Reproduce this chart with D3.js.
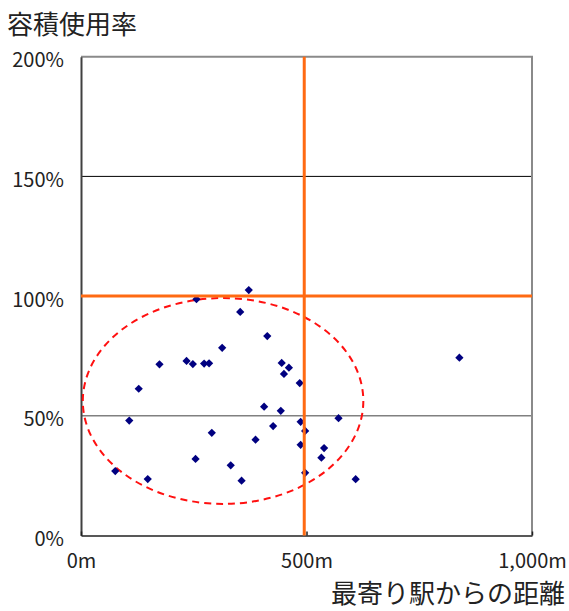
<!DOCTYPE html>
<html><head><meta charset="utf-8">
<script src="https://cdn.jsdelivr.net/npm/d3@7"></script>
<style>html,body{margin:0;padding:0;background:#fff}</style>
</head><body>
<svg id="c" width="569" height="611"></svg>
<script>
// distance to nearest station (m)
const distance = [372,256,353,413,313,174,234,248,273,284,445,461,450,485,128,406,443,107,487,497,290,426,387,487,254,332,76,148,356,497,571,539,533,609,839];
// floor area utilisation (%)
const usage = [102.5,98.7,93.4,83.3,78.4,71.5,72.9,71.6,71.8,71.9,72.1,70.1,67.5,63.7,61.3,53.8,52.1,48.0,47.5,43.7,42.9,45.7,40.0,37.9,32.0,29.3,26.9,23.6,22.9,26.2,49.0,36.5,32.5,23.5,74.3];
const xTicks = [0,500,1000];
const xTickLabels = ["0m","500m","1,000m"];
const yTicks = [0,50,100,150,200];
const yTickLabels = ["0%","50%","100%","150%","200%"];
const refX = [495];       // vertical reference line (m)
const refY = [100];       // horizontal reference line (%)
const ellipse = {cx:315, cy:56.2, rx:311, ry:43}; // dashed group outline, data units
const yTitle = "容積使用率";
const xTitle = "最寄り駅からの距離";

const svg = d3.select("#c");
const L=81, R=532, T=56.7, B=535.5;
const x = d3.scaleLinear().domain([0,1000]).range([L,R]);
const y = d3.scaleLinear().domain([0,200]).range([B,T]);
const font = "'Noto Sans CJK JP','Noto Sans',sans-serif";
const orange = "#ff6a12";

// gridlines
svg.append("g").selectAll("line").data(yTicks.filter(d=>d>0 && d<200)).join("line")
  .attr("x1",L).attr("x2",R).attr("y1",d=>y(d)).attr("y2",d=>y(d))
  .attr("stroke",d=>d===50?"#808080":"#000").attr("stroke-width",d=>d===50?1.6:1);
// top & right border
svg.append("path").attr("d",`M${L},${T}H${R}V${B}`).attr("fill","none")
  .attr("stroke","#8a8a8a").attr("stroke-width",2);

// axes
const yAxis = d3.axisLeft(y).tickValues(yTicks).tickFormat((d,i)=>yTickLabels[i]).tickSize(0).tickPadding(17);
const gy = svg.append("g").attr("transform",`translate(${L},0)`).call(yAxis);
gy.select(".domain").attr("stroke","#404040").attr("stroke-width",2);
gy.selectAll("text").attr("font-family",font).attr("font-size",20).attr("fill","#222").attr("dy","0.5em");

const xAxis = d3.axisBottom(x).tickValues(xTicks).tickFormat((d,i)=>xTickLabels[i]).tickSizeInner(-4).tickSizeOuter(0).tickPadding(18);
const gx = svg.append("g").attr("transform",`translate(0,${B})`).call(xAxis);
gx.select(".domain").attr("stroke","#202020").attr("stroke-width",1.6);
gx.selectAll(".tick line").attr("stroke","#202020").attr("stroke-width",1.5);
gx.selectAll("text").attr("font-family",font).attr("font-size",20).attr("fill","#222");

// ellipse
svg.append("ellipse")
  .attr("cx",x(ellipse.cx)).attr("cy",y(ellipse.cy))
  .attr("rx",x(ellipse.rx)-x(0)).attr("ry",y(0)-y(ellipse.ry))
  .attr("fill","none").attr("stroke","#ff1010").attr("stroke-width",2)
  .attr("stroke-dasharray","7,5");

// points
const pts = distance.map((d,i)=>({x:d,y:usage[i]}));
svg.append("g").selectAll("path").data(pts).join("path")
  .attr("d",d3.symbol(d3.symbolSquare,34))
  .attr("transform",d=>`translate(${x(d.x)},${y(d.y)}) rotate(45)`)
  .attr("fill","#000080");

// reference lines
svg.append("g").selectAll("line").data(refY).join("line")
  .attr("x1",L).attr("x2",R).attr("y1",d=>y(d)).attr("y2",d=>y(d))
  .attr("stroke",orange).attr("stroke-width",3);
svg.append("g").selectAll("line").data(refX).join("line")
  .attr("x1",d=>x(d)).attr("x2",d=>x(d)).attr("y1",T).attr("y2",B)
  .attr("stroke",orange).attr("stroke-width",3);

// titles
svg.append("text").attr("x",7).attr("y",34).text(yTitle)
  .attr("font-family",font).attr("font-size",26).attr("fill","#222");
svg.append("text").attr("x",565).attr("y",603).attr("text-anchor","end").text(xTitle)
  .attr("font-family",font).attr("font-size",26).attr("fill","#222");
</script>
</body></html>
